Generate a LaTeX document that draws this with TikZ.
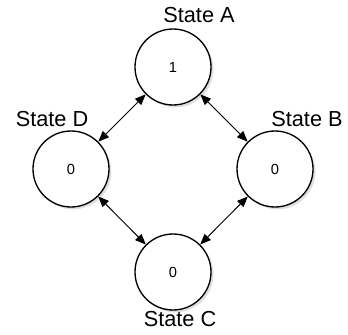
\documentclass[tikz,border=0pt]{standalone}
\usepackage{fontspec}
\setmainfont{Liberation Sans}
\usepackage{tikz}
\usetikzlibrary{arrows.meta,shadows}

\begin{document}
\begin{tikzpicture}[x=0.75pt, y=-0.75pt,
  state/.style={circle, draw, line width=1pt, fill=white, minimum size=57pt, inner sep=0pt,
    font=\fontsize{11}{13}\selectfont,
    drop shadow={shadow xshift=1.8pt, shadow yshift=-1.8pt, opacity=0.25}},
  statelabel/.style={font=\fontsize{16.3}{19}\selectfont},
  link/.style={{Triangle[length=8pt,width=6.5pt]}-{Triangle[length=8pt,width=6.5pt]}, line width=0.7pt}]
\useasboundingbox (0,0) rectangle (348,334);

% States
\node[state] (a) at (173,67) {1};
\node[state] (b) at (275,169) {0};
\node[state] (c) at (173,272) {0};
\node[state] (d) at (71,169) {0};

% State names
\node[statelabel] (la) at (199,15) {State A};
\node[statelabel] (lb) at (307,119) {State B};
\node[statelabel] (lc) at (180,319) {State C};
\node[statelabel] (ld) at (52,119) {State D};

% Transitions
\draw[link] (a) -- (b);
\draw[link] (b) -- (c);
\draw[link] (c) -- (d);
\draw[link] (d) -- (a);

\end{tikzpicture}
\end{document}
